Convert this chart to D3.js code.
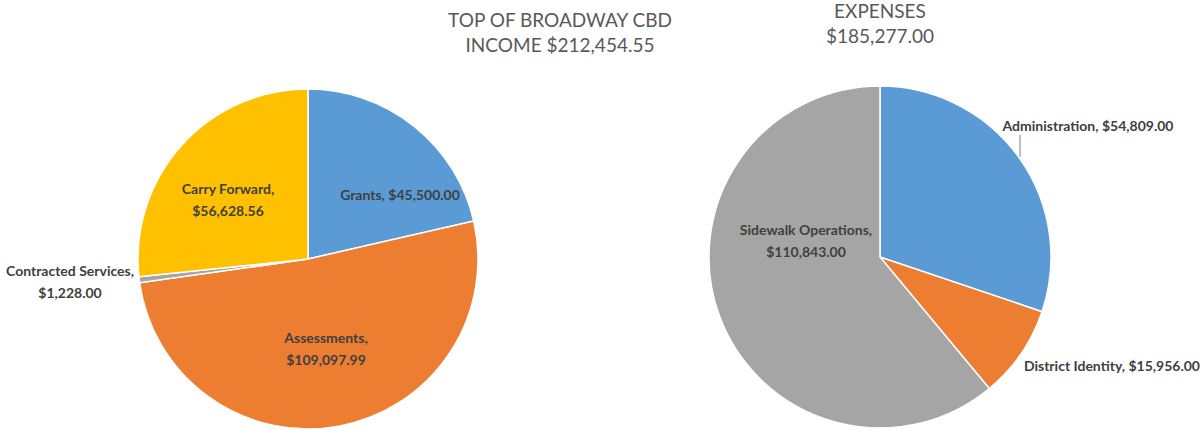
<!DOCTYPE html>
<html><head><meta charset="utf-8">
<script src="https://cdn.jsdelivr.net/npm/d3@7"></script>
<style>body{margin:0;background:#fff;}svg{display:block;font-family:Lato,"Open Sans","Liberation Sans",sans-serif;}</style>
</head><body>
<svg id="c" width="1203" height="430"></svg>
<script>
const incomeCategories = ["Grants", "Assessments", "Contracted Services", "Carry Forward"];
const incomeValues = [45500.00, 109097.99, 1228.00, 56628.56];
const incomeLabels = ["$45,500.00", "$109,097.99", "$1,228.00", "$56,628.56"];
const expenseCategories = ["Administration", "District Identity", "Sidewalk Operations"];
const expenseValues = [54809.00, 15956.00, 110843.00];
const expenseLabels = ["$54,809.00", "$15,956.00", "$110,843.00"];
const incomeTitle = ["TOP OF BROADWAY CBD", "INCOME $212,454.55"];
const expenseTitle = ["EXPENSES", "$185,277.00"];

const incomeColors = ["#5B9BD5", "#ED7D31", "#A5A5A5", "#FFC000"];
const expenseColors = ["#5B9BD5", "#ED7D31", "#A5A5A5"];

const svg = d3.select("#c");

function drawPie(cx, cy, r, cats, vals, colors, labels, layout) {
  const g = svg.append("g").attr("transform", `translate(${cx},${cy})`);
  const pie = d3.pie().sort(null).value(d => d)(vals);
  const arc = d3.arc().innerRadius(0).outerRadius(r);
  g.selectAll("path").data(pie).join("path")
    .attr("d", arc).attr("fill", (d, i) => colors[i])
    .attr("stroke", "#fff").attr("stroke-width", 1.5);
  pie.forEach((d, i) => {
    const L = layout[i];
    if (L.line) {
      g.append("line").attr("x1", L.line[0]).attr("y1", L.line[1]).attr("x2", L.line[2]).attr("y2", L.line[3])
        .attr("stroke", "#7f7f7f").attr("stroke-width", 1);
    }
    const t = g.append("text").attr("text-anchor", L.anchor || "middle")
      .attr("font-size", 14).attr("font-weight", "bold").attr("fill", "#404040");
    if (L.oneLine) {
      t.append("tspan").attr("x", L.x).attr("y", L.y).text(cats[i] + ", " + labels[i]);
    } else {
      t.append("tspan").attr("x", L.x).attr("y", L.y).text(cats[i] + ",");
      t.append("tspan").attr("x", L.x).attr("y", L.y + 22).text(labels[i]);
    }
  });
}

function title(x, y, lines) {
  const t = svg.append("text").attr("text-anchor", "middle").attr("font-size", 19).attr("fill", "#595959");
  lines.forEach((s, i) => t.append("tspan").attr("x", x).attr("y", y + i * 25).text(s));
}

drawPie(308, 259, 170, incomeCategories, incomeValues, incomeColors, incomeLabels, [
  {x: 92, y: -59, oneLine: true},
  {x: 18, y: 84},
  {x: -238, y: 17},
  {x: -80, y: -65}
]);
drawPie(880, 257, 171, expenseCategories, expenseValues, expenseColors, expenseLabels, [
  {x: 208, y: -126, oneLine: true, line: [140, -122, 140, -100]},
  {x: 320, y: 114, oneLine: true, anchor: "end"},
  {x: -74, y: -22}
]);

title(560, 27, incomeTitle);
title(880, 18, expenseTitle);
</script>
</body></html>
